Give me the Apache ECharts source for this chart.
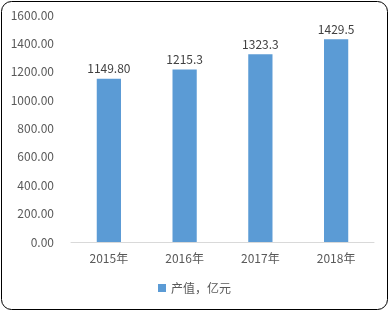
<!DOCTYPE html>
<html><head><meta charset="utf-8">
<script src="https://cdn.jsdelivr.net/npm/echarts@6/dist/echarts.min.js"></script>
<style>html,body{margin:0;padding:0;background:#fff}#c{width:389px;height:311px}</style>
</head><body><div id="c"></div>
<script>
const categories = ['2015年','2016年','2017年','2018年'];
const values = [1149.8, 1215.3, 1323.3, 1429.5];
const valueLabels = ['1149.80','1215.3','1323.3','1429.5'];
const seriesName = '产值，亿元';
const chart = echarts.init(document.getElementById('c'));
const font = '"Noto Sans CJK SC", "DejaVu Sans", sans-serif';
chart.setOption({
  animation:false,
  textStyle:{fontFamily:font},
  graphic:[{type:'rect',shape:{x:1.5,y:1.5,width:386,height:308,r:10},style:{fill:'none',stroke:'#000',lineWidth:1},silent:true}],
  grid:{left:71,right:15,top:15,bottom:69},
  legend:{bottom:12,left:'center',itemWidth:8,itemHeight:8,icon:'rect',itemGap:4,
    textStyle:{color:'#595959',fontSize:12,fontFamily:font},data:[seriesName]},
  xAxis:{type:'category',data:categories,axisTick:{show:false},
    axisLine:{lineStyle:{color:'#d9d9d9'}},
    axisLabel:{color:'#595959',fontSize:12,margin:10,fontFamily:font}},
  yAxis:{type:'value',min:0,max:1600,interval:200,splitLine:{show:false},
    axisLine:{show:false},axisTick:{show:false},
    axisLabel:{color:'#595959',fontSize:12,margin:17,formatter:v=>v.toFixed(2),fontFamily:font}},
  series:[{name:seriesName,type:'bar',data:values,barWidth:'32%',
    itemStyle:{color:'#5b9bd5'},
    label:{show:true,position:'top',color:'#404040',fontSize:12,distance:4,
      formatter:p=>valueLabels[p.dataIndex],fontFamily:font}}]
});
</script></body></html>
